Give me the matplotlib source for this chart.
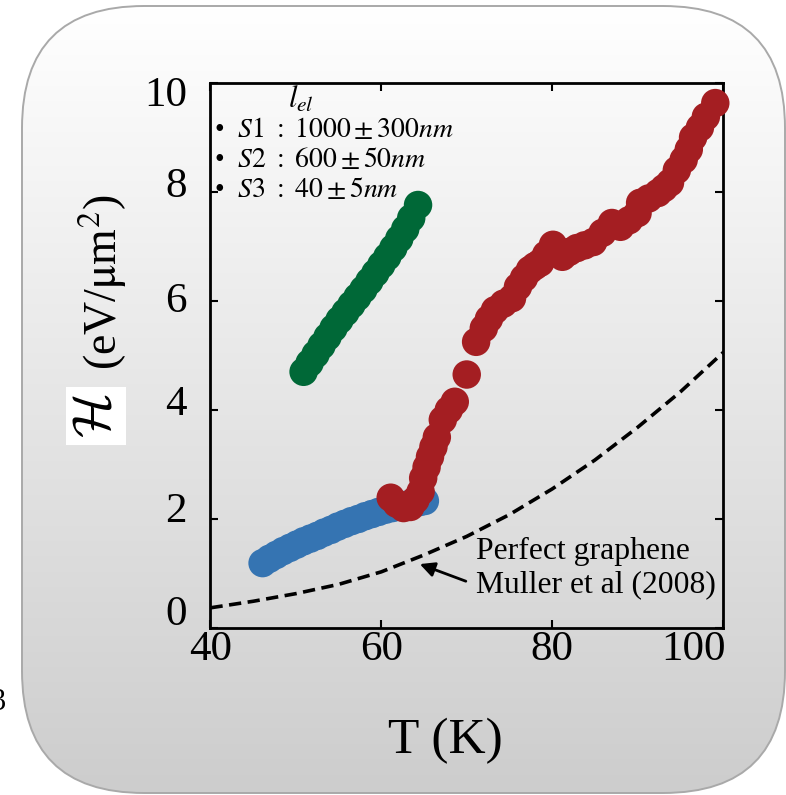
import numpy as np
import matplotlib
matplotlib.use("Agg")
import matplotlib.pyplot as plt
import matplotlib.transforms as mtransforms
from matplotlib.patches import FancyBboxPatch
from matplotlib.colors import LinearSegmentedColormap

plt.rcParams['font.family'] = ['Liberation Serif', 'DejaVu Serif']
plt.rcParams['mathtext.fontset'] = 'stix'

# S1 (blue), l_el = 1000 nm
T_s1 = [46.1, 46.9, 47.7, 48.5, 49.3, 50.1, 50.9, 51.7, 52.5, 53.3, 54.1, 54.9, 55.7,
        56.5, 57.3, 58.1, 58.9, 59.7, 60.5, 61.3, 62.1, 62.9, 63.7, 64.5, 65.1]
H_s1 = [1.19, 1.27, 1.34, 1.41, 1.47, 1.53, 1.59, 1.64, 1.69, 1.75, 1.80, 1.86, 1.91,
        1.96, 2.00, 2.05, 2.09, 2.13, 2.17, 2.20, 2.23, 2.26, 2.29, 2.31, 2.33]

# S2 (red), l_el = 600 nm
T_s2 = [61.1, 61.8, 62.6, 63.4, 64.0, 64.6, 64.9, 65.3, 65.7, 66.1, 66.5, 67.2, 67.9,
        68.6, 70.0, 71.1, 72.0, 72.6, 73.3, 74.3, 75.3, 76.0, 76.7, 77.4, 78.0, 78.6,
        79.3, 80.1, 81.2, 82.0, 82.9, 83.8, 84.8, 85.9, 87.0, 88.0, 89.0, 90.0, 90.3,
        91.3, 92.4, 93.1, 93.8, 94.6, 95.4, 96.0, 96.5, 97.3, 98.0, 99.1]
H_s2 = [2.39, 2.28, 2.20, 2.22, 2.35, 2.50, 2.75, 2.95, 3.14, 3.32, 3.50, 3.82, 4.00,
        4.15, 4.65, 5.25, 5.50, 5.67, 5.83, 5.95, 6.05, 6.26, 6.42, 6.57, 6.64, 6.70,
        6.85, 7.03, 6.81, 6.90, 6.97, 7.02, 7.08, 7.25, 7.43, 7.36, 7.48, 7.61, 7.80,
        7.88, 7.98, 8.07, 8.17, 8.40, 8.59, 8.78, 9.00, 9.18, 9.38, 9.63]

# S3 (green), l_el = 40 nm
T_s3 = [50.9, 51.6, 52.3, 53.0, 53.7, 54.4, 55.1, 55.8, 56.5, 57.2, 57.9, 58.6, 59.3,
        60.0, 60.7, 61.4, 62.1, 62.8, 63.5, 64.3]
H_s3 = [4.70, 4.86, 5.02, 5.18, 5.34, 5.50, 5.65, 5.79, 5.93, 6.07, 6.21, 6.36, 6.51,
        6.66, 6.81, 6.97, 7.14, 7.32, 7.52, 7.76]

# perfect graphene, Muller et al (2008)
T_ref = [40, 45, 50, 55, 60, 65, 70, 75, 80, 85, 90, 95, 100, 100.5]
H_ref = [0.37, 0.49, 0.63, 0.80, 1.03, 1.34, 1.68, 2.08, 2.55, 3.08, 3.68, 4.33, 5.05, 5.13]

x_ticks = [40, 60, 80, 100]
y_ticks = [0, 2, 4, 6, 8, 10]
legend_lines = [r"$S1\ :\ 1000 \pm 300nm$", r"$S2\ :\ 600 \pm 50nm$", r"$S3\ :\ 40 \pm 5nm$"]

fig = plt.figure(figsize=(7.86, 7.95), dpi=100)

# rounded grey panel behind everything (pixel units)
bg = fig.add_axes([0, 0, 1, 1], zorder=-1)
bg.set_xlim(0, 786)
bg.set_ylim(0, 795)
bg.axis('off')
px0, py0, pw, ph = 22, 2, 763, 787
panel = FancyBboxPatch((px0, py0), pw, ph, boxstyle="round,pad=0,rounding_size=122",
                       fc='none', ec='#a9a9a9', lw=1.4, zorder=3)
bg.add_patch(panel)
grad = np.linspace(0, 1, 256).reshape(-1, 1)
cmap = LinearSegmentedColormap.from_list('panel', ['#cdcdcd', '#e6e6e6', '#ffffff'])
img = bg.imshow(grad, extent=[px0, px0 + pw, py0, py0 + ph], origin='lower', cmap=cmap,
                aspect='auto', zorder=2)
img.set_clip_path(panel)
bg.set_xlim(0, 786)
bg.set_ylim(0, 795)

ax = fig.add_axes([0.2678, 0.2101, 0.6520, 0.6856])
ax.set_facecolor('none')

ax.plot(T_ref, H_ref, color='black', lw=2.6, dashes=(3.4, 1.8), zorder=2)
ax.scatter(T_s1, H_s1, s=420, color='#3574b2', edgecolors='none', zorder=3, clip_on=False)
ax.scatter(T_s2, H_s2, s=420, color='#a41e22', edgecolors='none', zorder=4, clip_on=False)
ax.scatter(T_s3, H_s3, s=420, color='#006837', edgecolors='none', zorder=4, clip_on=False)

ax.set_xlim(40, 100)
ax.set_ylim(0, 10)
ax.set_xticks(x_ticks)
ax.set_yticks(y_ticks)
ax.tick_params(direction='in', length=6, width=1.5, top=True, right=True, labelsize=31)
ax.tick_params(axis='x', pad=2)
ax.tick_params(axis='y', pad=17)
for sp in ax.spines.values():
    sp.set_linewidth(2)

# last x label sits flush with the right frame
xlabels = ax.get_xticklabels()
xlabels[-1].set_horizontalalignment('right')
xlabels[-1].set_transform(xlabels[-1].get_transform() +
                          mtransforms.ScaledTranslation(0.03, 0, fig.dpi_scale_trans))
# y labels are not quite level with their ticks
label_raise_px = [18, 12, 10, 4, 10, -8]
for lab, up in zip(ax.get_yticklabels(), label_raise_px):
    lab.set_transform(lab.get_transform() +
                      mtransforms.ScaledTranslation(0, up / 100, fig.dpi_scale_trans))

# sample legend
ax.text(0.176, 0.969, r"$l_{el}$", transform=ax.transAxes, fontsize=22, ha='center', va='center')
for i, line in enumerate(legend_lines):
    ax.text(0.006, 0.914 - i * 0.055, "\u2022  " + line, transform=ax.transAxes,
            fontsize=20, ha='left', va='center')

ax.annotate("", xy=(64.2, 1.19), xytext=(70.2, 0.84),
            arrowprops=dict(arrowstyle='-|>', color='black', lw=2, mutation_scale=22))
ax.text(71.1, 1.10, "Perfect graphene\nMuller et al (2008)", fontsize=22.8,
        ha='left', va='center', linespacing=1.2)

fig.text(445 / 786, 1 - 741 / 795, "T (K)", fontsize=37, ha='center', va='center')
fig.text(103 / 786, 1 - 282 / 795, r"(eV/$\mathrm{\mu}$m$^{2}$)", fontsize=33, rotation=90,
         ha='center', va='center')
fig.text(96 / 786, 1 - 416 / 795, r"$\mathcal{H}$", fontsize=38, rotation=90, ha='center',
         va='center', math_fontfamily='cm',
         bbox=dict(boxstyle='square,pad=0.12', fc='white', ec='none'))
fig.text(-9 / 786, 1 - 703 / 795, "3", fontsize=22, ha='left', va='center')

fig.savefig("out.png", dpi=100)
